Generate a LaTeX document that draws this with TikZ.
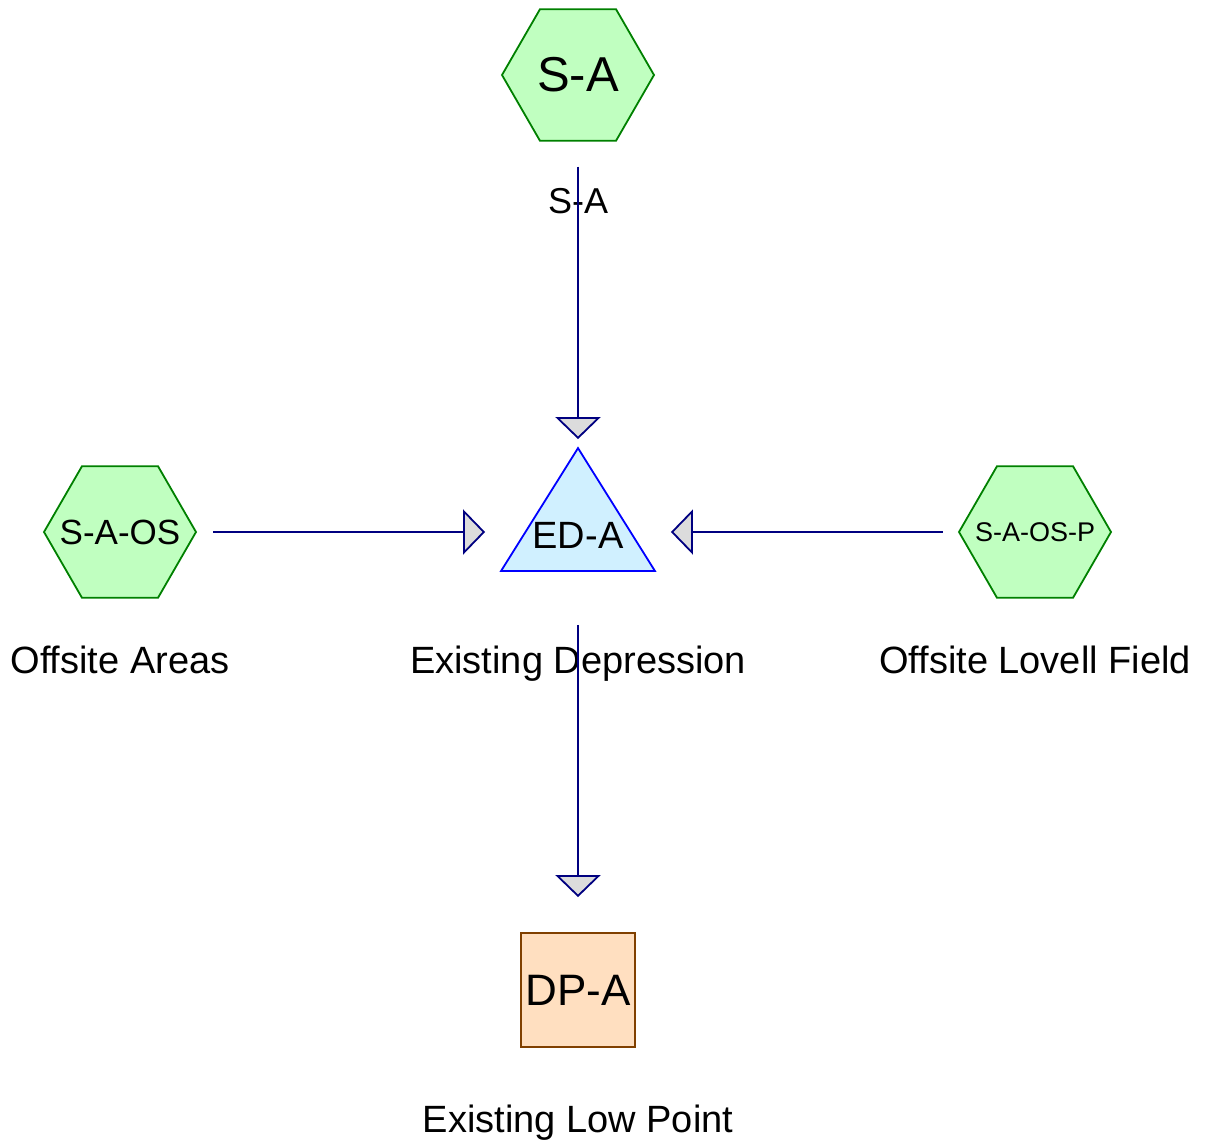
\documentclass[tikz,border=0pt]{standalone}
\usepackage{fontspec}
\setmainfont{Liberation Sans}
\usetikzlibrary{arrows.meta,shapes.geometric}
\definecolor{hexfill}{HTML}{C0FFC0}
\definecolor{hexline}{HTML}{008000}
\definecolor{depfill}{HTML}{D0F0FF}
\definecolor{depline}{HTML}{0000FF}
\definecolor{lowfill}{HTML}{FFDFC0}
\definecolor{lowline}{HTML}{804000}
\definecolor{flowline}{HTML}{000080}
\definecolor{tipgray}{HTML}{DCDCDC}

\begin{document}
\begin{tikzpicture}[x=1pt, y=-1pt, line width=1.8pt,
	sub/.style={regular polygon, regular polygon sides=6, minimum size=152pt, inner sep=0pt, draw=hexline, fill=hexfill},
	pond/.style={minimum width=152pt, minimum height=121pt, inner sep=0pt},
	outlet/.style={rectangle, minimum size=114pt, inner sep=0pt, draw=lowline, fill=lowfill},
	lbl/.style={anchor=base, font=\fontsize{38}{44}\selectfont},
	flow/.style={draw=flowline, -{Triangle[length=22pt, width=45pt, fill=tipgray]}}]
	  \useasboundingbox (0,0) rectangle (1205,1141);
	  % subareas
	  \node[sub, font=\fontsize{49}{54}\selectfont] (sa) at (578,75) {\makebox[0pt]{S-A}};
	  \node[sub, font=\fontsize{35}{40}\selectfont] (saos) at (120,532) {\makebox[0pt]{S-A-OS}};
	  \node[sub, font=\fontsize{27}{32}\selectfont] (saosp) at (1035,532) {\makebox[0pt]{S-A-OS-P}};
	  % depression
	  \node[pond] (eda) at (578,509.5) {};
	  \draw[draw=depline, fill=depfill] (eda.north) -- (eda.south east) -- (eda.south west) -- cycle;
	  \node[font=\fontsize{38}{44}\selectfont] (edatxt) at (578,535) {ED-A};
	  % low point
	  \node[outlet, font=\fontsize{44}{50}\selectfont] (dpa) at (578,990) {DP-A};
	  % names
	  \node[lbl, font=\fontsize{36}{42}\selectfont] (saname) at (578,213) {S-A};
	  \node[lbl] (saosname) at (120,673) {Offsite Areas};
	  \node[lbl] (edaname) at (578,673) {Existing Depression};
	  \node[lbl] (saospname) at (1035,673) {Offsite Lovell Field};
	  \node[lbl] (dpaname) at (578,1132) {Existing Low Point};
	  % flows
	  \draw[flow] ([yshift=-25pt]sa.south) -- ([yshift=9pt]eda.north);
	  \draw[flow] ([xshift=16pt]saos.east) -- ([xshift=-16pt]eda.west |- saos.east);
	  \draw[flow] ([xshift=-15pt]saosp.west) -- ([xshift=16pt]eda.east |- saosp.west);
	  \draw[flow] ([yshift=-54pt]eda.south) -- ([yshift=35pt]dpa.north);
	\end{tikzpicture}
\end{document}
